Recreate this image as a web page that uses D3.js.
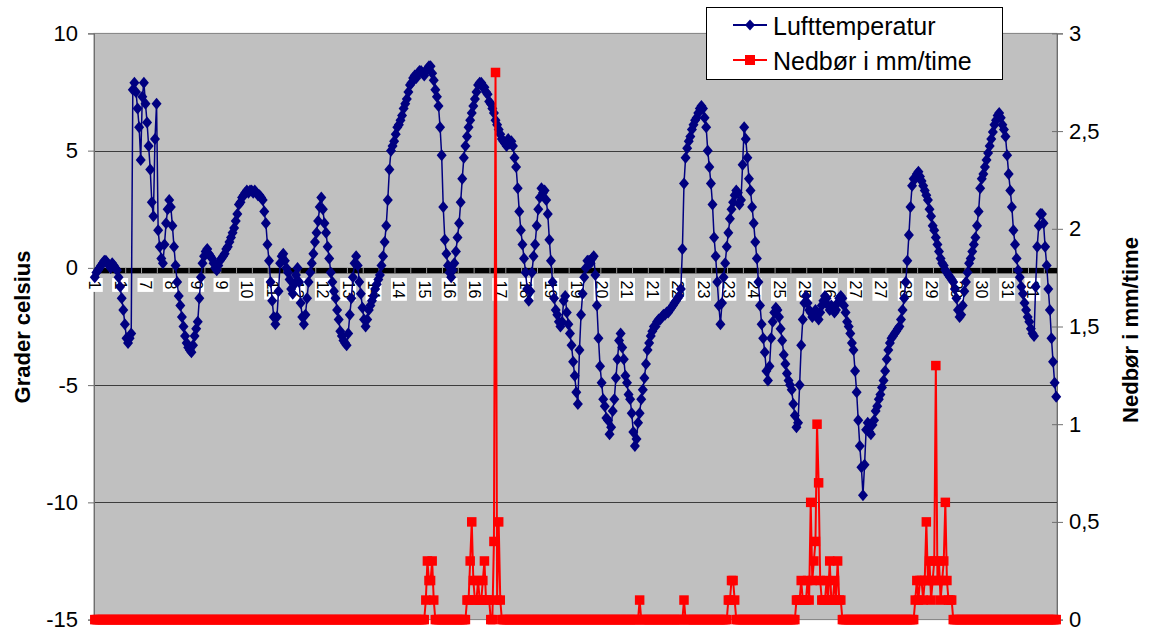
<!DOCTYPE html>
<html>
<head>
<meta charset="utf-8">
<script src="https://cdn.jsdelivr.net/npm/d3@7"></script>
<style>
  body { margin: 0; background: #fff; }
  svg { display: block; }
  text { font-family: Arial, "Liberation Sans", sans-serif; }
</style>
</head>
<body>
<svg id="chart" width="1152" height="632"></svg>
<script>
// Day-of-month labels shown along the category axis (one every 16 readings)
const dayLabels = ["1","1","7","8","9","9","10","11","12","12","13","14","14","15","16","16","17","18","19",
  "19","20","21","21","22","23","23","24","25","25","26","27","27","28","29","29","30","31","31"];

// Air temperature readings (°C)
const temperature = [
  -0.4,-0.2,-0.1,0.0,0.1,0.2,0.3,0.3,0.2,0.1,0.0,0.2,0.1,0.0,-0.1,-0.4,-0.8,-1.3,-1.8,-2.4,
  -3.0,-3.2,-3.0,-2.8,7.6,7.9,7.5,6.8,6.0,4.6,7.3,7.9,7.0,6.2,5.2,4.2,2.8,2.2,5.5,7.0,
  1.6,0.9,0.4,0.2,1.0,1.9,2.5,2.9,2.6,1.8,0.9,0.1,-0.6,-1.2,-1.6,-2.1,-2.5,-2.9,-3.2,-3.4,
  -3.5,-3.6,-3.3,-2.9,-2.6,-2.3,-1.3,-0.4,0.2,0.5,0.7,0.8,0.6,0.5,0.4,0.2,0.0,-0.1,0.1,0.3,
  0.4,0.5,0.6,0.8,0.9,1.1,1.3,1.5,1.7,2.0,2.3,2.7,2.8,3.0,3.1,3.2,3.3,3.2,3.3,3.3,
  3.2,3.3,3.2,3.1,3.1,3.0,2.9,2.4,1.9,1.0,0.3,-0.6,-1.4,-2.1,-2.4,-2.1,-1.0,0.2,0.5,0.6,
  0.3,0.0,-0.2,-0.5,-0.9,-1.1,-0.7,-0.3,0.0,-0.6,-1.5,-2.1,-2.4,-2.0,-1.3,-0.6,-0.2,0.2,0.6,1.1,
  1.5,2.0,2.6,3.0,2.5,1.9,1.5,0.9,0.4,-0.2,-0.6,-1.0,-1.3,-1.8,-2.2,-2.7,-2.9,-3.1,-3.2,-3.3,
  -2.8,-2.0,-1.3,-0.4,0.2,0.5,0.1,-0.6,-1.1,-1.7,-2.2,-2.5,-2.2,-1.8,-1.6,-1.4,-1.2,-0.9,-0.7,-0.5,
  -0.3,0.1,0.5,1.1,1.8,2.9,4.2,5.0,5.2,5.4,5.7,6.0,6.1,6.3,6.5,6.8,7.0,7.2,7.5,7.8,
  7.9,8.1,8.2,8.1,8.3,8.4,8.4,8.3,8.2,8.4,8.5,8.6,8.6,8.3,8.0,7.6,7.3,6.9,6.0,4.8,
  2.6,1.2,0.6,0.1,-0.2,-0.4,-0.1,0.2,0.7,1.3,1.9,2.8,3.8,4.7,5.2,5.6,6.0,6.3,6.6,6.9,
  7.2,7.5,7.8,7.9,7.9,7.7,7.7,7.5,7.4,7.1,7.0,6.8,6.6,6.3,6.1,5.9,5.7,5.5,5.4,5.3,
  5.2,5.5,5.3,5.4,5.2,4.7,4.3,3.4,2.4,1.6,1.0,0.4,-0.2,-0.9,-1.4,-1.0,-0.2,0.5,1.0,1.8,
  2.5,3.0,3.4,3.2,3.3,2.9,2.3,1.2,0.3,-0.6,-1.3,-1.8,-2.0,-2.3,-2.5,-2.3,-1.4,-1.2,-1.9,-2.4,
  -2.8,-3.3,-4.0,-4.6,-5.3,-5.8,-3.5,-2.0,-1.1,-0.4,0.0,0.3,0.3,0.2,0.4,0.5,-0.3,-1.6,-3.0,-4.2,
  -4.9,-5.6,-5.9,-6.4,-6.5,-7.1,-6.8,-6.1,-5.6,-4.7,-3.9,-3.1,-2.8,-3.4,-3.9,-4.6,-4.9,-5.4,-5.6,-6.2,
  -7.0,-7.6,-7.3,-6.6,-6.2,-5.6,-5.2,-4.7,-4.1,-3.5,-3.2,-2.9,-2.7,-2.5,-2.5,-2.3,-2.2,-2.2,-2.1,-2.0,
  -2.0,-1.9,-1.9,-1.8,-1.7,-1.6,-1.5,-1.4,-1.3,-1.2,-0.9,0.8,3.6,4.7,5.1,5.4,5.6,5.9,6.1,6.3,
  6.4,6.6,6.8,6.9,6.8,6.4,6.0,5.0,4.3,3.6,2.7,1.3,0.5,-0.6,-1.6,-2.4,-1.5,-0.4,0.2,0.9,
  1.5,2.1,2.5,2.8,3.1,3.3,3.2,2.7,2.9,4.4,6.0,5.5,4.7,3.8,3.3,2.6,1.9,1.1,0.4,-0.6,
  -1.6,-2.4,-3.0,-3.6,-4.4,-4.8,-4.2,-3.0,-2.3,-1.9,-1.7,-1.8,-2.1,-2.6,-3.1,-3.7,-4.1,-4.5,-4.8,-5.0,
  -5.2,-5.8,-6.3,-6.8,-6.6,-5.0,-3.3,-2.2,-1.5,-1.2,-1.5,-1.8,-1.9,-2.1,-2.0,-1.8,-2.0,-2.2,-1.9,-1.6,
  -1.4,-1.2,-1.3,-1.6,-1.8,-1.6,-1.7,-1.9,-1.8,-1.5,-1.3,-1.2,-1.3,-1.6,-1.9,-2.3,-2.5,-2.8,-3.2,-3.5,
  -4.4,-5.3,-6.5,-7.6,-8.5,-9.7,-8.4,-6.9,-6.6,-7.0,-7.1,-6.7,-6.5,-6.1,-5.9,-5.6,-5.4,-5.1,-4.8,-4.4,
  -3.9,-3.5,-3.2,-3.0,-2.9,-2.8,-2.7,-2.6,-2.5,-2.2,-1.8,-1.3,-0.6,0.3,1.4,2.6,3.5,3.8,3.8,4.0,
  4.1,3.9,3.7,3.5,3.3,3.1,2.9,2.5,2.2,1.8,1.6,1.3,1.0,0.7,0.4,0.2,0.1,-0.1,-0.2,-0.3,
  -0.4,-0.5,-0.6,-0.9,-1.3,-1.8,-2.1,-2.0,-1.6,-1.0,-0.6,-0.2,0.2,0.4,0.7,1.0,1.3,1.8,2.4,3.4,
  3.8,4.0,4.3,4.6,4.9,5.2,5.5,5.8,6.1,6.3,6.5,6.6,6.4,6.1,5.9,5.6,4.8,4.0,3.3,2.6,
  1.6,1.0,0.4,-0.1,-0.4,-0.8,-1.1,-1.5,-1.8,-2.1,-2.3,-2.6,-2.8,-2.9,-0.8,0.9,1.8,2.3,2.3,1.9,
  0.9,0.1,-0.9,-1.8,-3.0,-4.0,-4.9,-5.5
];

// Precipitation per reading (mm/time)
const precipitation = [
  0,0,0,0,0,0,0,0,0,0,0,0,0,0,0,0,0,0,0,0,
  0,0,0,0,0,0,0,0,0,0,0,0,0,0,0,0,0,0,0,0,
  0,0,0,0,0,0,0,0,0,0,0,0,0,0,0,0,0,0,0,0,
  0,0,0,0,0,0,0,0,0,0,0,0,0,0,0,0,0,0,0,0,
  0,0,0,0,0,0,0,0,0,0,0,0,0,0,0,0,0,0,0,0,
  0,0,0,0,0,0,0,0,0,0,0,0,0,0,0,0,0,0,0,0,
  0,0,0,0,0,0,0,0,0,0,0,0,0,0,0,0,0,0,0,0,
  0,0,0,0,0,0,0,0,0,0,0,0,0,0,0,0,0,0,0,0,
  0,0,0,0,0,0,0,0,0,0,0,0,0,0,0,0,0,0,0,0,
  0,0,0,0,0,0,0,0,0,0,0,0,0,0,0,0,0,0,0,0,
  0,0,0,0,0,0,0,0,0,0.1,0.3,0.2,0.2,0.3,0.1,0,0,0,0,0,
  0,0,0,0,0,0,0,0,0,0,0,0,0,0,0,0.1,0.1,0.3,0.5,0.2,
  0.1,0.1,0.2,0.1,0.1,0.2,0.3,0.1,0.1,0.1,0,0,0.4,2.8,0.1,0.5,0.1,0,0,0,
  0,0,0,0,0,0,0,0,0,0,0,0,0,0,0,0,0,0,0,0,
  0,0,0,0,0,0,0,0,0,0,0,0,0,0,0,0,0,0,0,0,
  0,0,0,0,0,0,0,0,0,0,0,0,0,0,0,0,0,0,0,0,
  0,0,0,0,0,0,0,0,0,0,0,0,0,0,0,0,0,0,0,0,
  0,0,0,0,0.1,0,0,0,0,0,0,0,0,0,0,0,0,0,0,0,
  0,0,0,0,0,0,0,0,0,0,0,0,0.1,0,0,0,0,0,0,0,
  0,0,0,0,0,0,0,0,0,0,0,0,0,0,0,0,0,0,0,0,
  0.1,0.1,0.2,0.2,0.1,0,0,0,0,0,0,0,0,0,0,0,0,0,0,0,
  0,0,0,0,0,0,0,0,0,0,0,0,0,0,0,0,0,0,0,0,
  0,0,0,0.1,0.1,0.1,0.2,0.1,0.1,0.1,0.2,0.1,0.6,0.2,0.3,0.4,1.0,0.7,0.2,0.1,
  0.1,0.1,0.2,0.1,0.3,0.1,0.1,0.2,0.1,0.3,0.1,0.1,0,0,0,0,0,0,0,0,
  0,0,0,0,0,0,0,0,0,0,0,0,0,0,0,0,0,0,0,0,
  0,0,0,0,0,0,0,0,0,0,0,0,0,0,0,0,0,0,0.1,0.2,
  0.1,0.2,0.2,0.1,0.2,0.5,0.2,0.3,0.1,0.2,0.3,1.3,0.2,0.3,0.1,0.2,0.3,0.6,0.2,0.1,
  0.1,0.1,0,0,0,0,0,0,0,0,0,0,0,0,0,0,0,0,0,0,
  0,0,0,0,0,0,0,0,0,0,0,0,0,0,0,0,0,0,0,0,
  0,0,0,0,0,0,0,0,0,0,0,0,0,0,0,0,0,0,0,0,
  0,0,0,0,0,0,0,0
];

const tempTicks = [10, 5, 0, -5, -10, -15];
const rainTicks = [0, 0.5, 1, 1.5, 2, 2.5, 3];
const labelEvery = 16;  // readings per day label
const tickEvery = 10;   // readings per category tick mark

const svg = d3.select("#chart");
const plot = { left: 94, right: 1057, top: 33.4, bottom: 619.6 };

const x = d3.scaleLinear()
  .domain([-0.5, temperature.length - 0.5])
  .range([plot.left, plot.right]);
const yT = d3.scaleLinear().domain([-15, 10]).range([plot.bottom, plot.top]);
const yR = d3.scaleLinear().domain([0, 3]).range([plot.bottom, plot.top]);

const diamond = "M0,-6L5,0L0,6L-5,0Z";

// Plot background
svg.append("rect")
  .attr("x", plot.left).attr("y", plot.top)
  .attr("width", plot.right - plot.left).attr("height", plot.bottom - plot.top)
  .attr("fill", "#c0c0c0").attr("stroke", "#808080").attr("stroke-width", 1);

// Horizontal gridlines
svg.append("g").selectAll("line")
  .data(tempTicks.filter(d => d !== 0 && d !== -15 && d !== 10))
  .join("line")
  .attr("x1", plot.left).attr("x2", plot.right)
  .attr("y1", d => Math.round(yT(d)) + 0.5).attr("y2", d => Math.round(yT(d)) + 0.5)
  .attr("stroke", "#3c3c3c").attr("stroke-width", 1);

// Left axis
const leftAxis = svg.append("g")
  .attr("transform", `translate(${plot.left},0)`)
  .call(d3.axisLeft(yT).tickValues(tempTicks).tickSize(6).tickPadding(10)
    .tickFormat(d => String(d)));
leftAxis.select(".domain").attr("stroke", "#6e6e6e");
leftAxis.selectAll(".tick line").attr("stroke", "#6e6e6e");
leftAxis.selectAll(".tick text")
  .attr("font-size", 22).attr("fill", "#000")
  .style("font-family", "Arial, 'Liberation Sans', sans-serif");

// Right axis (precipitation)
const rightAxis = svg.append("g")
  .attr("transform", `translate(${plot.right},0)`)
  .call(d3.axisRight(yR).tickValues(rainTicks).tickSize(6).tickPadding(6)
    .tickFormat(d => String(d).replace(".", ",")));
rightAxis.select(".domain").attr("stroke", "#6e6e6e");
rightAxis.selectAll(".tick line").attr("x1", -5).attr("stroke", "#6e6e6e");
rightAxis.selectAll(".tick text")
  .attr("font-size", 22).attr("fill", "#000")
  .style("font-family", "Arial, 'Liberation Sans', sans-serif");

// Thick zero line acting as the category axis
const y0 = yT(0);
svg.append("rect")
  .attr("x", plot.left).attr("y", y0)
  .attr("width", plot.right - plot.left).attr("height", 5.5)
  .attr("fill", "#000");

// Category tick marks
const tickIdx = d3.range(0, temperature.length + 1, tickEvery);
svg.append("g").selectAll("line")
  .data(tickIdx)
  .join("line")
  .attr("x1", d => x(d - 0.5)).attr("x2", d => x(d - 0.5))
  .attr("y1", y0).attr("y2", y0 + 5.5)
  .attr("stroke", "#9a9a9a").attr("stroke-width", 1);

// Day labels, rotated, on white boxes
const labelG = svg.append("g");
dayLabels.forEach((lab, j) => {
  const cx = x(j * labelEvery);
  const g = labelG.append("g").attr("transform", `translate(${cx},279) rotate(90)`);
  const rect = g.append("rect").attr("fill", "#fff");
  const t = g.append("text")
    .attr("x", 1.5).attr("y", 0)
    .attr("dominant-baseline", "central")
    .attr("font-size", 16).attr("fill", "#000")
    .text(lab);
  const len = t.node().getComputedTextLength();
  rect.attr("x", -1).attr("y", -8).attr("width", len + 5).attr("height", 16);
});

// Temperature series
const tempLine = d3.line().x((d, i) => x(i)).y(d => yT(d));
svg.append("path")
  .datum(temperature)
  .attr("d", tempLine)
  .attr("fill", "none").attr("stroke", "#000080").attr("stroke-width", 1.5)
  .attr("stroke-linejoin", "round");
svg.append("g").selectAll("path")
  .data(temperature)
  .join("path")
  .attr("transform", (d, i) => `translate(${x(i)},${yT(d)})`)
  .attr("d", diamond)
  .attr("fill", "#000080");

// Precipitation series
const rainLine = d3.line().x((d, i) => x(i)).y(d => yR(d));
svg.append("path")
  .datum(precipitation)
  .attr("d", rainLine)
  .attr("fill", "none").attr("stroke", "#ff0000").attr("stroke-width", 2);
svg.append("g").selectAll("rect")
  .data(precipitation)
  .join("rect")
  .attr("x", (d, i) => x(i) - 4.75).attr("y", d => yR(d) - 4.75)
  .attr("width", 9.5).attr("height", 9.5)
  .attr("fill", "#ff0000");

// Axis titles
svg.append("text")
  .attr("transform", "translate(22,327) rotate(-90)")
  .attr("text-anchor", "middle").attr("dominant-baseline", "central")
  .attr("font-size", 22).attr("font-weight", "bold")
  .text("Grader celsius");
svg.append("text")
  .attr("transform", "translate(1130,330) rotate(-90)")
  .attr("text-anchor", "middle").attr("dominant-baseline", "central")
  .attr("font-size", 22).attr("font-weight", "bold")
  .text("Nedbør i mm/time");

// Legend
const legend = svg.append("g");
legend.append("rect")
  .attr("x", 706.5).attr("y", 7.5).attr("width", 296).attr("height", 72)
  .attr("fill", "#fff").attr("stroke", "#000").attr("stroke-width", 1);
const items = [
  { name: "Lufttemperatur", color: "#000080", y: 25, shape: "diamond" },
  { name: "Nedbør i mm/time", color: "#ff0000", y: 60, shape: "square" }
];
items.forEach(it => {
  legend.append("line")
    .attr("x1", 733).attr("x2", 767).attr("y1", it.y).attr("y2", it.y)
    .attr("stroke", it.color).attr("stroke-width", 2);
  if (it.shape === "diamond") {
    legend.append("path").attr("transform", `translate(750,${it.y})`)
      .attr("d", "M0,-5.5L5,0L0,5.5L-5,0Z").attr("fill", it.color);
  } else {
    legend.append("rect").attr("x", 745).attr("y", it.y - 5)
      .attr("width", 10).attr("height", 10).attr("fill", it.color);
  }
  legend.append("text")
    .attr("x", 773).attr("y", it.y + 9.5)
    .attr("font-size", 25).attr("fill", "#000")
    .text(it.name);
});
</script>
</body>
</html>
